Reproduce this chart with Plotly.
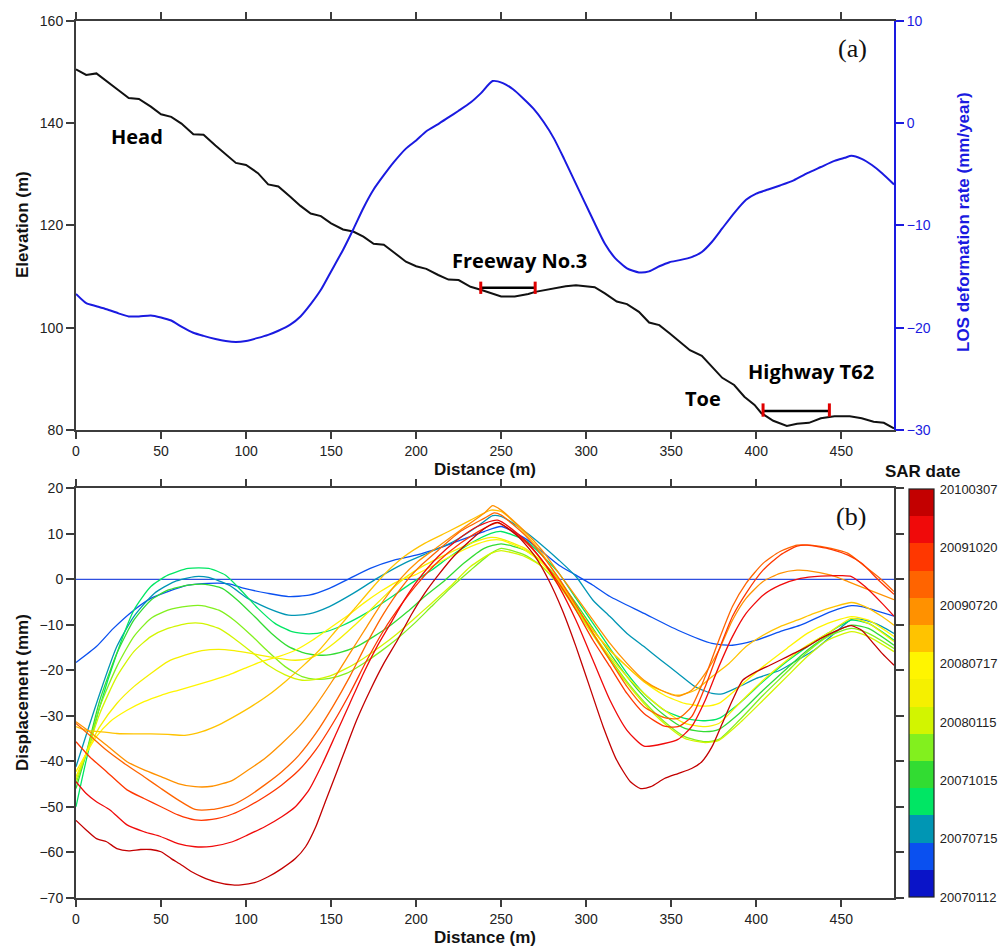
import plotly.graph_objects as go

W, H = 1005, 949

# ---------------- panel (a): elevation profile + LOS deformation rate ----------------
elev_dist = [0, 6, 12, 18, 25, 31, 37, 44, 50, 56, 62, 69, 75, 82, 88, 94, 100, 107, 113, 119,
             126, 132, 138, 144, 150, 157, 163, 169, 175, 181, 187, 194, 200, 206, 213, 219, 225, 232, 238, 244,
             250, 258, 266, 270, 276, 282, 288, 294, 300, 305, 311, 318, 324, 331, 337, 343, 349, 355, 361, 368,
             374, 380, 387, 393, 399, 403, 410, 418, 424, 431, 438, 446, 455, 462, 469, 475, 481]
elev_m = [150.5, 149.4, 149.7, 148.1, 146.4, 144.9, 144.7, 143.2, 141.7, 141.2,
          139.9, 137.8, 137.7, 135.6, 133.9, 132.2, 131.8, 130.2, 128.0, 127.6,
          125.6, 123.8, 122.3, 121.8, 120.4, 119.2, 118.8, 117.8, 116.4, 116.2,
          114.7, 112.9, 112.0, 111.5, 110.3, 109.4, 109.3, 108.0, 107.4, 106.7,
          106.1, 106.1, 106.6, 107.0, 107.4, 107.7, 108.1, 108.3, 108.1, 107.9,
          106.7, 105.1, 104.6, 103.1, 101.0, 100.5, 98.9, 97.3, 95.6, 94.5,
          92.4, 90.2, 88.8, 86.5, 84.9, 83.3, 81.8, 80.8, 81.2, 81.4,
          82.3, 82.7, 82.7, 82.3, 81.6, 81.4, 80.3]

rate_dist = [0, 6, 12, 18, 25, 31, 37, 44, 50, 56, 62, 69, 75, 82, 88, 94, 100, 107, 113, 119,
             126, 132, 138, 144, 150, 157, 163, 169, 175, 181, 187, 194, 200, 206, 213, 219, 225, 232, 238, 245,
             251, 257, 263, 269, 275, 281, 287, 293, 299, 305, 311, 317, 324, 331, 337, 343, 349, 355, 362, 368,
             374, 380, 387, 394, 400, 407, 414, 422, 430, 438, 446, 452, 456, 462, 468, 474, 481]
rate_mmyr = [-16.7, -17.6, -17.9, -18.2, -18.6, -18.9, -18.9, -18.8, -19.0, -19.3,
             -19.9, -20.5, -20.8, -21.1, -21.3, -21.4, -21.3, -21.0, -20.7, -20.3,
             -19.7, -18.9, -17.7, -16.3, -14.5, -12.4, -10.4, -8.3, -6.5, -5.1,
             -3.8, -2.5, -1.7, -0.8, -0.1, 0.55, 1.2, 2.0, 2.9, 4.1,
             3.9, 3.3, 2.4, 1.4, 0.1, -1.5, -3.5, -5.6, -7.7, -9.8,
             -11.8, -13.2, -14.2, -14.6, -14.5, -14.0, -13.6, -13.4, -13.1, -12.6,
             -11.6, -10.3, -8.8, -7.5, -6.9, -6.5, -6.1, -5.6, -4.9, -4.3,
             -3.7, -3.4, -3.2, -3.5, -4.1, -4.9, -6.0]

# road crossings: [start, end] distance, bar elevation, end-mark elevation span
freeway_span = [238, 270]
freeway_level = 107.8
freeway_mark = [106.6, 109.0]
highway_span = [404, 443]
highway_level = 83.7
highway_mark = [82.6, 85.2]

# text labels on panel (a): (distance, elevation)
head_pos = [36, 137.3]
freeway_pos = [261, 113.1]
highway_pos = [432, 91.4]
toe_pos = [368.5, 86.2]
tag_a_pos = [456.5, 154.6]
tag_b_pos = [456, 13.8]

# ---------------- panel (b): cumulative displacement per SAR date ----------------
d01_x = [0, 100, 200, 300, 400, 481]
d01_y = [0, 0, 0, 0, 0, 0]

d02_x = [0, 12, 22, 34, 44, 54, 66, 78, 90, 99, 113, 125, 137, 149, 161, 173, 187, 200, 213, 226,
         240, 250, 264, 274, 284, 294, 304, 314, 334, 354, 374, 386, 400, 414, 426, 444, 456, 462, 481]
d02_y = [-18.3, -14.8, -10.8, -6.8, -4.2, -2.7, -1.3, -0.9, -1.0, -2.0, -3.1, -3.8, -3.5, -2.0, 0.2, 2.4,
         4.2, 5.3, 6.8, 8.6, 10.5, 11.6, 9.0, 6.1, 3.1, 0.9, -1.3, -3.8, -7.5, -11.2, -14.1, -14.5,
         -13.4, -11.5, -10.1, -7.1, -5.8, -6.0, -8.1]

d03_x = [0, 14, 24, 34, 46, 58, 70, 78, 90, 101, 113, 125, 137, 149, 163, 177, 193, 209, 222, 236,
         245, 250, 264, 274, 284, 294, 304, 314, 324, 334, 344, 354, 364, 374, 380, 390, 400, 414, 424, 434,
         446, 456, 464, 474, 481]
d03_y = [-41.2, -25.1, -14.8, -8.2, -3.1, -0.5, 0.6, 0.4, -1.3, -4.2, -6.4, -7.9, -7.6, -6.0, -3.1, 0.2,
         3.5, 6.1, 8.3, 11.6, 14.0, 13.8, 10.5, 7.5, 4.2, 0.6, -4.6, -8.2, -11.9, -14.8, -17.8, -20.7,
         -23.6, -25.1, -25.2, -23.6, -21.8, -20.0, -17.8, -15.6, -11.9, -8.8, -9.0, -10.4, -11.9]

d04_x = [0, 6, 14, 24, 34, 44, 54, 66, 78, 88, 97, 107, 117, 127, 137, 147, 157, 167, 177, 187,
         197, 209, 220, 232, 244, 250, 264, 274, 284, 294, 304, 314, 324, 334, 346, 358, 370, 378, 390, 404,
         418, 430, 442, 456, 466, 481]
d04_y = [-50, -39.8, -28, -16.3, -6.8, -1.6, 0.9, 2.4, 2.4, 0.9, -2.4, -6.4, -9.7, -11.5, -12, -11.5,
         -10.1, -8.2, -6, -3.5, -0.9, 2, 5, 7.9, 10.1, 10.5, 8.6, 5.3, 1.3, -4.2, -9.7, -15.2, -20.7,
         -25.1, -28.8, -30.6, -31.1, -30.6, -27.3, -22.5, -18.1, -14.8, -11.9, -9.0, -9.7, -13.4]

d05_x = [0, 6, 14, 24, 34, 44, 54, 66, 76, 86, 95, 105, 115, 125, 135, 145, 155, 165, 175, 185,
         195, 205, 217, 228, 240, 250, 264, 274, 284, 294, 304, 314, 324, 334, 346, 358, 370, 378, 390, 404,
         418, 430, 442, 456, 466, 481]
d05_y = [-46, -38.3, -26.6, -16.3, -9, -4.6, -2.4, -1.3, -1.1, -2, -4.6, -8.2, -11.9, -14.8, -16.3,
         -16.7, -16.1, -14.8, -12.6, -10.1, -7.1, -3.8, -0.2, 3.5, 6.8, 7.8, 6.4, 3.9, -0.2, -5.3,
         -10.8, -16.3, -21.4, -25.8, -29.9, -32.8, -33.5, -33, -29.5, -24.4, -19.6, -15.6, -12.5, -10.1,
         -10.8, -14.5]

d06_x = [0, 6, 14, 24, 34, 44, 54, 66, 74, 84, 93, 103, 113, 123, 133, 141, 149, 159, 169, 179,
         189, 199, 209, 220, 232, 244, 250, 264, 274, 284, 294, 304, 314, 324, 334, 346, 358, 370, 378, 390,
         404, 418, 430, 442, 456, 466, 481]
d06_y = [-44.9, -38.3, -28, -19.2, -12.6, -8.6, -6.8, -5.9, -5.8, -6.8, -9, -12.3, -15.9, -19.2, -21.4,
         -22, -21.8, -20.7, -18.5, -15.9, -13, -9.7, -6, -2, 2, 5.7, 6.8, 5.3, 2.8, -1.3, -6.4, -11.9,
         -17.4, -22.5, -26.9, -31.3, -34.6, -35.7, -35.2, -31, -25.5, -20.4, -16, -12.6, -10.8, -11.9,
         -15.2]

d07_x = [0, 6, 14, 24, 34, 44, 54, 66, 74, 84, 93, 103, 113, 123, 133, 141, 149, 159, 169, 179,
         189, 199, 209, 220, 232, 244, 250, 264, 274, 284, 294, 304, 314, 324, 334, 346, 358, 370, 378, 390,
         404, 418, 430, 442, 456, 466, 481]
d07_y = [-44.1, -38.3, -29.5, -21.4, -15.9, -12.6, -10.8, -9.7, -9.7, -10.8, -13, -15.9, -18.9, -21,
         -22.2, -22, -21.3, -19.6, -17.4, -14.8, -11.9, -8.6, -5.3, -1.6, 2.8, 5.7, 6.3, 5, 2.8, -1.3,
         -6.8, -12.3, -17.8, -22.9, -27.3, -31.7, -35, -35.9, -35.4, -31.7, -26.6, -21.4, -17, -13.4,
         -11.5, -12.6, -15.9]

d08_x = [0, 6, 14, 24, 34, 44, 54, 64, 74, 84, 93, 103, 113, 123, 129, 137, 145, 153, 163, 173,
         183, 193, 205, 219, 232, 244, 250, 264, 274, 284, 294, 304, 314, 324, 334, 346, 358, 370, 378, 390,
         404, 418, 430, 442, 456, 466, 481]
d08_y = [-43.4, -38.3, -32.4, -27.3, -23.6, -20.7, -18.1, -16.7, -15.7, -15.4, -15.7, -16.3, -17,
         -17.6, -17.8, -17.4, -15.9, -13.7, -10.4, -6.8, -3.1, 0.2, 3.1, 5.7, 7.9, 9.2, 8.9, 6.8, 3.9,
         -0.5, -6, -11.9, -17, -21.4, -25.1, -28.8, -31.7, -32.4, -31.7, -27.3, -22.2, -17.8, -14.5,
         -11.9, -8.6, -9.7, -13.7]

d09_x = [0, 6, 12, 20, 30, 40, 50, 60, 70, 80, 90, 99, 109, 119, 129, 139, 149, 159, 169, 179,
         189, 199, 209, 220, 232, 244, 250, 264, 274, 284, 294, 304, 314, 324, 334, 346, 358, 370, 378, 390,
         404, 418, 430, 442, 456, 466, 481]
d09_y = [-42.3, -38.3, -34.6, -31.3, -28.8, -26.9, -25.5, -24.4, -23.3, -22.2, -21, -19.6, -18.1, -17,
         -15.6, -13.4, -10.8, -8.2, -5.3, -2.7, -0.5, 0.9, 2.8, 5, 7.2, 8.6, 8.6, 6.4, 3.5, -0.9, -6,
         -11.2, -15.6, -19.2, -22.5, -25.5, -27.3, -27.9, -27.3, -23.6, -19.2, -15.2, -11.9, -9.7, -8.2,
         -9, -12.6]

d10_x = [0, 6, 14, 24, 34, 44, 54, 64, 74, 84, 93, 103, 113, 123, 133, 143, 153, 163, 173, 183,
         193, 205, 219, 232, 244, 250, 264, 274, 284, 294, 304, 314, 324, 334, 344, 354, 364, 374, 384, 394,
         404, 414, 424, 434, 446, 456, 464, 474, 481]
d10_y = [-32.4, -33.2, -33.5, -33.9, -34, -34, -34.1, -34.3, -33.5, -32, -30.2, -28, -25.5, -22.5,
         -19.2, -15.6, -11.2, -6.8, -2.4, 1.7, 5, 7.9, 10.5, 13, 15.2, 14.9, 10.1, 5.7, -0.2, -6, -11.2,
         -15.6, -19.2, -22.5, -24.4, -25.5, -24.4, -21.4, -18.5, -14.8, -12.3, -10.4, -9, -7.5, -6, -5.1,
         -6, -8.2, -10.1]

d11_x = [0, 8, 18, 30, 40, 50, 60, 70, 80, 92, 101, 111, 121, 131, 141, 151, 161, 171, 181, 191,
         201, 213, 226, 240, 245, 250, 264, 274, 284, 294, 304, 314, 324, 334, 344, 354, 362, 370, 378, 386,
         394, 404, 414, 424, 430, 444, 454, 464, 481]
d11_y = [-31.3, -33.5, -36.5, -40.1, -41.9, -43.4, -44.9, -45.6, -45.5, -44.2, -42, -39.4, -36.1,
         -32.4, -27.7, -22.2, -16.3, -10.4, -4.6, 0.2, 3.9, 7.2, 10.8, 14.5, 16.2, 15.2, 10.5, 6.4, 1.3,
         -3.8, -9, -14.1, -18.5, -22.2, -24.4, -25.7, -24.4, -20.7, -15.6, -9, -4.2, -0.5, 1.3, 2, 1.9,
         0.9, -0.5, -2, -4.5]

d12_x = [0, 8, 18, 30, 40, 50, 60, 70, 80, 92, 101, 111, 121, 131, 141, 151, 161, 171, 181, 191,
         201, 213, 226, 240, 246, 250, 264, 274, 284, 294, 304, 314, 324, 334, 346, 354, 362, 370, 378, 386,
         394, 404, 414, 424, 432, 444, 454, 464, 474, 481]
d12_y = [-31.7, -34.3, -37.6, -40.9, -43.4, -46, -48.5, -50.6, -50.6, -49.6, -47.8, -45.2, -42.3,
         -38.7, -33.9, -28, -21.4, -14.1, -7.5, -2, 2.4, 6.4, 10.5, 13.4, 14.6, 14.1, 9.7, 5.3, 0.2,
         -5.7, -11.9, -17.8, -23.6, -28, -30.4, -30.6, -28, -21.4, -13.4, -6, -0.9, 3.5, 6.1, 7.5, 7.5,
         6.8, 5.7, 2.8, -0.2, -2.7]

d13_x = [0, 8, 18, 30, 40, 50, 60, 70, 80, 92, 101, 111, 121, 131, 141, 151, 161, 171, 181, 191,
         201, 213, 226, 240, 248, 264, 274, 284, 294, 304, 314, 324, 334, 346, 354, 362, 370, 378, 386, 394,
         404, 414, 424, 430, 444, 454, 462, 472, 481]
d13_y = [-35.7, -39, -42.3, -46.3, -48.2, -50, -51.8, -52.9, -52.8, -51.6, -50, -47.8, -45.2, -42,
         -37.5, -31.7, -25.1, -17.8, -11.2, -5.7, -0.9, 3.9, 7.9, 11.2, 12.4, 8.3, 4.2, -0.9, -6.8,
         -13.4, -19.2, -25.1, -29.5, -32.3, -32.4, -30.2, -23.6, -15.6, -8.2, -3.1, 2, 5.3, 7.3, 7.5,
         6.6, 5.3, 3.5, -0.2, -3.3]

d14_x = [0, 6, 12, 20, 30, 40, 50, 60, 70, 80, 92, 101, 111, 121, 129, 137, 145, 153, 161, 169,
         177, 185, 193, 201, 213, 224, 236, 248, 264, 274, 284, 294, 304, 314, 324, 334, 346, 354, 362, 370,
         378, 386, 394, 404, 414, 426, 438, 450, 456, 464, 474, 481]
d14_y = [-44.5, -47.1, -48.9, -50.7, -54, -55.5, -56.6, -58.1, -58.8, -58.7, -57.7, -56.2, -54.4,
         -52.2, -50, -46.3, -40.5, -33.9, -27.3, -20.7, -14.8, -9.7, -4.6, -0.2, 5, 8.6, 11.6, 13, 8.6,
         4.2, -1.6, -9, -17.8, -26.6, -33.2, -36.7, -36.1, -35.2, -32.4, -26.6, -19.2, -12.6, -7.5, -3.5,
         -1.3, 0.2, 0.7, 0.8, 0.6, -1.6, -5.3, -8.1]

d15_x = [0, 6, 12, 18, 24, 31, 38, 44, 50, 56, 62, 68, 74, 82, 92, 97, 105, 113, 121, 129,
         135, 141, 147, 153, 159, 165, 173, 181, 189, 197, 205, 213, 222, 232, 242, 248, 260, 270, 278, 286,
         294, 302, 310, 318, 326, 332, 338, 346, 354, 362, 368, 374, 380, 386, 392, 400, 408, 414, 422, 430,
         438, 446, 454, 456, 462, 468, 474, 481]
d15_y = [-53, -55.1, -57, -57.7, -59.2, -59.7, -59.4, -59.4, -59.9, -61.4, -62.8, -64.3, -65.4, -66.5,
         -67.2, -67.2, -66.7, -65.4, -63.6, -61.4, -58.8, -54.4, -48.5, -42.7, -36.8, -31, -24.4, -18.5,
         -13.4, -7.9, -3.1, 0.9, 5, 8.6, 11.6, 12.5, 9.4, 5, -0.2, -6.8, -14.8, -23.6, -32.4, -39.8,
         -44.5, -46, -45.6, -43.8, -42.7, -41.6, -40.1, -36.8, -31.7, -26.6, -22.2, -20.3, -18.9, -17.8,
         -16.3, -14.8, -13, -11.5, -10.3, -10.2, -11.2, -13.7, -16.3, -18.9]

series_x = [d01_x, d02_x, d03_x, d04_x, d05_x, d06_x, d07_x, d08_x, d09_x, d10_x,
            d11_x, d12_x, d13_x, d14_x, d15_x]
series_y = [d01_y, d02_y, d03_y, d04_y, d05_y, d06_y, d07_y, d08_y, d09_y, d10_y,
            d11_y, d12_y, d13_y, d14_y, d15_y]

# colour bands of the SAR-date scale, oldest (bottom) to newest (top)
band_colors = ["#0a14c8", "#0a50f0", "#0096b4", "#00e664", "#32dc32", "#82f01e", "#d2f500",
               "#f5f000", "#fff500", "#ffc300", "#ff9100", "#ff6400", "#ff3700", "#f00a0a", "#c30000"]
# stroke colours for the thin profile lines (reference date drawn a little lighter)
line_colors = ["#2f4fe0"] + band_colors[1:]
date_labels = ["20070112", "20070715", "20071015", "20080115",
               "20080717", "20090720", "20091020", "20100307"]

# ---------------- figure ----------------
FONT = "Liberation Sans, Arial, Helvetica, sans-serif"
AX_COL = "#3c3c3c"
BLUE = "#1a1ae0"
X_DOM = [76 / W, 894 / W]
A_DOM = [1 - 430 / H, 1 - 20.7 / H]
B_DOM = [1 - 897.7 / H, 1 - 488.3 / H]

fig = go.Figure()

fig.add_trace(go.Scatter(x=elev_dist, y=elev_m, mode="lines", xaxis="x", yaxis="y",
                         line=dict(color="#111111", width=2), showlegend=False, hoverinfo="skip"))
fig.add_trace(go.Scatter(x=rate_dist, y=rate_mmyr, mode="lines", xaxis="x", yaxis="y2",
                         line=dict(color=BLUE, width=2, shape="spline", smoothing=0.6),
                         showlegend=False, hoverinfo="skip"))

# road bars with red end marks
for span, level, mark in [(freeway_span, freeway_level, freeway_mark),
                          (highway_span, highway_level, highway_mark)]:
    fig.add_trace(go.Scatter(x=span, y=[level, level], mode="lines", xaxis="x", yaxis="y",
                             line=dict(color="#000000", width=2.5), showlegend=False, hoverinfo="skip"))
    for xe in span:
        fig.add_trace(go.Scatter(x=[xe, xe], y=mark, mode="lines", xaxis="x", yaxis="y",
                                 line=dict(color="#e00000", width=3), showlegend=False, hoverinfo="skip"))

for xs, ys, col in zip(series_x, series_y, line_colors):
    fig.add_trace(go.Scatter(x=xs, y=ys, mode="lines", xaxis="x2", yaxis="y3",
                             line=dict(color=col, width=1.3, shape="spline", smoothing=0.6),
                             showlegend=False, hoverinfo="skip"))

# discrete colour scale for the SAR dates
nb = len(band_colors)
cscale = []
for i, c in enumerate(band_colors):
    cscale.append([i / nb, c])
    cscale.append([(i + 1) / nb, c])
tick_pos = [nb * k / (len(date_labels) - 1) for k in range(len(date_labels))]
fig.add_trace(go.Scatter(
    x=[-100], y=[-200], mode="markers", xaxis="x2", yaxis="y3", showlegend=False, hoverinfo="skip",
    marker=dict(size=1, color=[0], cmin=0, cmax=nb, colorscale=cscale, showscale=True,
                colorbar=dict(x=909 / W, xanchor="left", y=1 - 693 / H, yanchor="middle",
                              len=408 / H, lenmode="fraction", thickness=25, thicknessmode="pixels",
                              xpad=0, ypad=0, outlinewidth=1.2, outlinecolor="#222222",
                              tickvals=tick_pos, ticktext=date_labels, ticks="outside", ticklen=3,
                              tickcolor="white",
                              tickfont=dict(family=FONT, size=13, color="#222222")))))

axis_common = dict(showline=True, linewidth=2, linecolor=AX_COL, ticks="outside", tickwidth=1.5,
                   tickcolor=AX_COL, showgrid=False, zeroline=False,
                   tickfont=dict(family=FONT, size=14, color="#222222"))

fig.update_layout(
    width=W, height=H, margin=dict(l=0, r=0, t=0, b=0, autoexpand=False),
    paper_bgcolor="white", plot_bgcolor="white",
    xaxis=dict(domain=X_DOM, anchor="y", range=[0, 481], tickvals=list(range(0, 451, 50)),
               ticklen=7, mirror="ticks", **axis_common),
    yaxis=dict(domain=A_DOM, anchor="x", range=[80, 160], tickvals=list(range(80, 161, 20)),
               ticklen=8, mirror=False, **axis_common),
    yaxis2=dict(domain=A_DOM, anchor="x", overlaying="y", side="right", range=[-30, 10],
                tickvals=[-30, -20, -10, 0, 10], ticklen=8, showline=True, linewidth=2, linecolor=BLUE,
                ticks="outside", tickwidth=1.5, tickcolor=BLUE, showgrid=False, zeroline=False,
                tickfont=dict(family=FONT, size=14, color=BLUE)),
    xaxis2=dict(domain=X_DOM, anchor="y3", range=[0, 481], tickvals=list(range(0, 451, 50)),
                ticklen=7, mirror="ticks", **axis_common),
    yaxis3=dict(domain=B_DOM, anchor="x2", range=[-70, 20], tickvals=list(range(-70, 21, 10)),
                ticklen=8, mirror="ticks", **axis_common),
)

def title_note(text, x, y, angle=0, color="#111111", size=17):
    fig.add_annotation(text="<b>" + text + "</b>", x=x / W, y=1 - y / H, xref="paper", yref="paper",
                       showarrow=False, textangle=angle, xanchor="center", yanchor="middle",
                       font=dict(family=FONT, size=size, color=color))

title_note("Elevation (m)", 22, 225, angle=-90)
title_note("LOS deformation rate (mm/year)", 963, 222, angle=-90, color=BLUE)
title_note("Distance (m)", 485, 470)
title_note("Displacement (mm)", 22, 693, angle=-90)
title_note("Distance (m)", 485, 937)
title_note("SAR date", 923, 472)

LABEL_FONT = dict(family="Open Sans, Lato, sans-serif", size=20, color="#000000")
for txt, pos in [("Head", head_pos), ("Freeway No.3", freeway_pos),
                 ("Highway T62", highway_pos), ("Toe", toe_pos)]:
    fig.add_annotation(text="<b>" + txt + "</b>", x=pos[0], y=pos[1], xref="x", yref="y",
                       showarrow=False, xanchor="center", yanchor="middle", font=LABEL_FONT)

SERIF = dict(family="Liberation Serif, Times New Roman, serif", size=26, color="#111111")
fig.add_annotation(text="(a)", x=tag_a_pos[0], y=tag_a_pos[1], xref="x", yref="y",
                   showarrow=False, font=SERIF)
fig.add_annotation(text="(b)", x=tag_b_pos[0], y=tag_b_pos[1], xref="x2", yref="y3",
                   showarrow=False, font=SERIF)

fig.write_html("out.html")
